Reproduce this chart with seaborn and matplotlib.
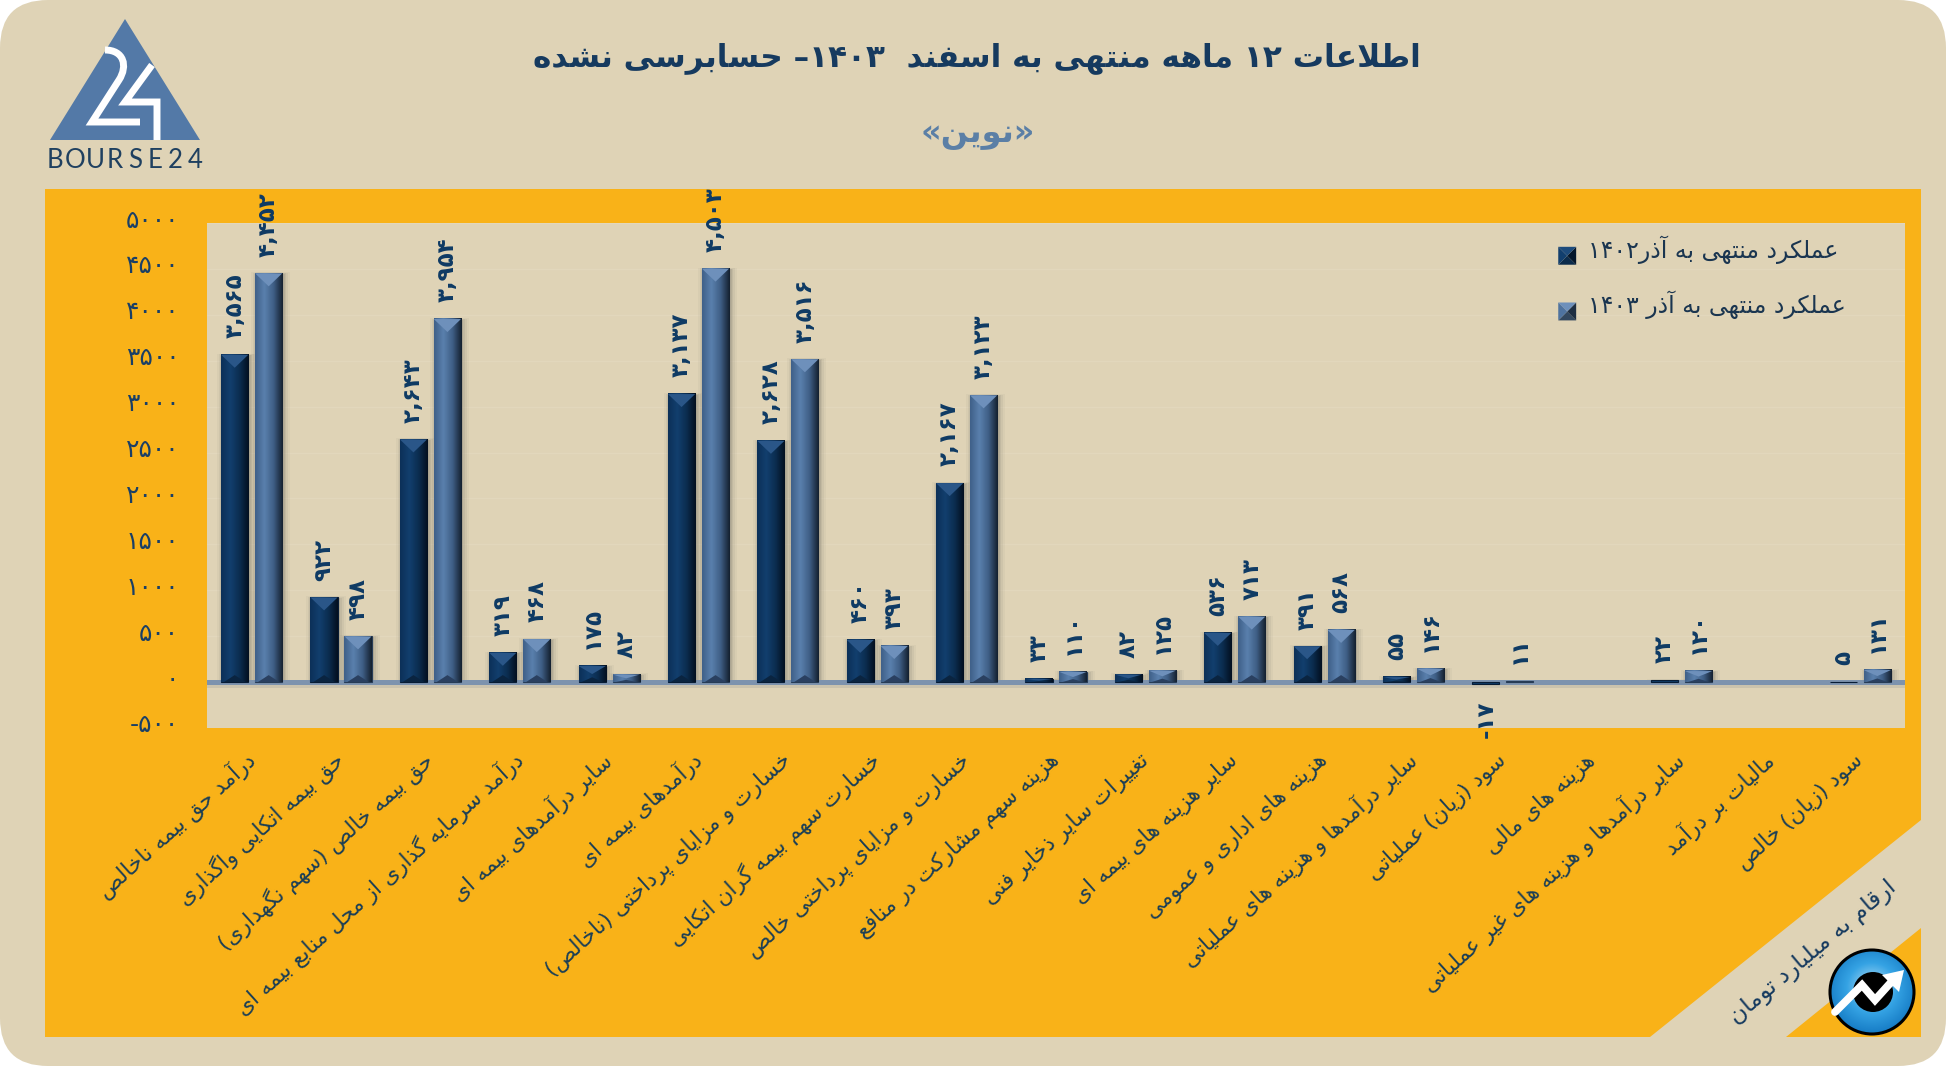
import numpy as np
import pandas as pd
import seaborn as sns
import matplotlib
matplotlib.use("Agg")
import matplotlib.pyplot as plt
from matplotlib.colors import LinearSegmentedColormap
from matplotlib.legend_handler import HandlerBase
from matplotlib.patches import Circle, FancyBboxPatch, Patch, PathPatch, Polygon, Rectangle
from matplotlib.path import Path
from matplotlib.transforms import ScaledTranslation

categories = [
    "درآمد حق بیمه ناخالص",
    "حق بیمه اتکایی واگذاری",
    "حق بیمه خالص (سهم نگهداری)",
    "درآمد سرمایه گذاری از محل منابع بیمه ای",
    "سایر درآمدهای بیمه ای",
    "درآمدهای بیمه ای",
    "خسارت و مزایای پرداختی (ناخالص)",
    "خسارت سهم بیمه گران اتکایی",
    "خسارت و مزایای پرداختی خالص",
    "هزینه سهم مشارکت در منافع",
    "تغییرات سایر ذخایر فنی",
    "سایر هزینه های بیمه ای",
    "هزینه های اداری و عمومی",
    "سایر درآمدها و هزینه های عملیاتی",
    "سود (زیان) عملیاتی",
    "هزینه های مالی",
    "سایر درآمدها و هزینه های غیر عملیاتی",
    "مالیات بر درآمد",
    "سود (زیان) خالص",
]
perf_1402 = [3565, 922, 2643, 319, 175, 3137, 2628, 460, 2167, 33, 82, 536, 391, 55, -17, 0, 22, 0, 5]
perf_1403 = [4452, 498, 3954, 468, 82, 4503, 3516, 393, 3123, 110, 125, 713, 568, 146, 11, 0, 120, 0, 131]
series_names = ["عملکرد منتهی به آذر۱۴۰۲", "عملکرد منتهی به آذر ۱۴۰۳"]
y_ticks = [-500, 0, 500, 1000, 1500, 2000, 2500, 3000, 3500, 4000, 4500, 5000]
title = "اطلاعات ۱۲ ماهه منتهی به اسفند  ۱۴۰۳– حسابرسی نشده"
subtitle = "«نوین»"
unit_note = "ارقام به میلیارد تومان"
logo_text = "BOURSE24"

BEIGE = "#DFD3B6"
ORANGE = "#F9B218"
NAVY = "#163A5F"
SLATE = "#5B7FA6"

W, H = 1946, 1066

# matplotlib does not shape arabic script, so pick the presentation forms by hand
FORMS = {
    "ا": (0xFE8D, 0xFE8E), "آ": (0xFE81, 0xFE82), "د": (0xFEA9, 0xFEAA), "ذ": (0xFEAB, 0xFEAC),
    "ر": (0xFEAD, 0xFEAE), "ز": (0xFEAF, 0xFEB0), "ژ": (0xFB8A, 0xFB8B), "و": (0xFEED, 0xFEEE),
}
for ch, start in {"ب": 0xFE8F, "ت": 0xFE95, "ث": 0xFE99, "ج": 0xFE9D, "ح": 0xFEA1, "خ": 0xFEA5,
                  "س": 0xFEB1, "ش": 0xFEB5, "ص": 0xFEB9, "ض": 0xFEBD, "ط": 0xFEC1, "ظ": 0xFEC5,
                  "ع": 0xFEC9, "غ": 0xFECD, "ف": 0xFED1, "ق": 0xFED5, "ل": 0xFEDD, "م": 0xFEE1,
                  "ن": 0xFEE5, "ه": 0xFEE9, "پ": 0xFB56, "چ": 0xFB7A, "ک": 0xFB8E, "گ": 0xFB92,
                  "ی": 0xFBFC}.items():
    FORMS[ch] = tuple(range(start, start + 4))
MIRROR = {"(": ")", ")": "(", "«": "»", "»": "«"}


def shape(text):
    text = text.replace("لا", "\uE000").replace("لآ", "\uE001")
    lam = {"\uE000": (0xFEFB, 0xFEFC), "\uE001": (0xFEF5, 0xFEF6)}
    table = {**FORMS, **lam}
    out = []
    for i, ch in enumerate(text):
        if ch not in table:
            out.append(ch)
            continue
        prev = text[i - 1] if i else ""
        nxt = text[i + 1] if i + 1 < len(text) else ""
        join_prev = prev in table and len(table[prev]) == 4
        join_next = nxt in table and len(table[ch]) == 4
        if len(table[ch]) == 2:
            out.append(chr(table[ch][1 if join_prev else 0]))
        else:
            idx = 3 if join_prev and join_next else 1 if join_prev else 2 if join_next else 0
            out.append(chr(table[ch][idx]))
    return "".join(out)


def fa(text):
    shaped = shape(text)
    runs, cur = [], ""
    for ch in shaped:
        if ch in "۰۱۲۳۴۵۶۷۸۹":
            cur += ch
        else:
            if cur:
                runs.append(cur)
                cur = ""
            runs.append(MIRROR.get(ch, ch))
    if cur:
        runs.append(cur)
    return "".join(reversed(runs))


def fa_num(v, sep=True):
    s = f"{v:,}" if sep else str(v)
    return s.translate(str.maketrans("0123456789", "۰۱۲۳۴۵۶۷۸۹"))


df = pd.DataFrame({
    "category": categories * 2,
    "value": perf_1402 + perf_1403,
    "series": [series_names[0]] * len(categories) + [series_names[1]] * len(categories),
})

sns.set_theme(style="white")
plt.rcParams["font.family"] = ["DejaVu Sans"]

fig = plt.figure(figsize=(W / 100, H / 100), dpi=100, facecolor="white")

# background layer in pixel coordinates
bg = fig.add_axes([0, 0, 1, 1], zorder=0)
bg.axis("off")
bg.add_patch(FancyBboxPatch((45, 45), W - 90, H - 90, boxstyle="round,pad=45,rounding_size=48",
                            fc=BEIGE, ec="none"))
bg.add_patch(Polygon([(45, 189), (1921, 189), (1921, 820), (1650, 1037), (45, 1037)], fc=ORANGE, ec="none"))
bg.add_patch(Polygon([(1786, 1037), (1921, 928), (1921, 1037)], fc=ORANGE, ec="none"))

# bourse24 logo
bg.add_patch(Polygon([(50, 140), (200, 140), (125, 19)], fc="#5379A7", ec="none"))
two = Path([(105, 50), (124, 50), (128, 66), (119, 80), (92, 122), (140, 122)],
           [Path.MOVETO, Path.CURVE4, Path.CURVE4, Path.CURVE4, Path.LINETO, Path.LINETO])
bg.add_patch(PathPatch(two, fc="none", ec="white", lw=5, capstyle="butt", joinstyle="miter"))
bg.plot([152, 125, 157, 157], [65, 102, 102, 140], color="white", lw=5,
        solid_joinstyle="miter", solid_capstyle="butt")
for letter, lx in zip(logo_text, np.linspace(55, 195, len(logo_text))):
    bg.text(lx, 161, letter, ha="center", va="center", color="#1F4060", fontsize=18.5, family="Lato")

bg.text(977, 58, fa(title), ha="center", va="center", color=NAVY, fontsize=22.4, fontweight="bold")
bg.text(978, 134, fa(subtitle), ha="center", va="center", color=SLATE, fontsize=23, fontweight="bold")
bg.text(1813, 953, fa(unit_note), ha="center", va="center", rotation=40, rotation_mode="anchor",
        color=NAVY, fontsize=16.8)

# round badge with the arrow
yy, xx = np.mgrid[-1:1:200j, -1:1:200j]
rr = np.hypot(xx, yy + 0.1)
badge_cmap = LinearSegmentedColormap.from_list("badge", ["#BFE4F7", "#35A3E4", "#0F73BE"])
im = bg.imshow(rr, extent=(1830, 1914, 1034, 950), cmap=badge_cmap, vmin=0, vmax=1.2, zorder=3)
im.set_clip_path(Circle((1872, 992), 42, transform=bg.transData))
bg.add_patch(Circle((1872, 992), 42, fc="none", ec="black", lw=2.2, zorder=4))
bg.add_patch(Circle((1873, 992), 20, fc="black", ec="none", zorder=4))
bg.plot([1835, 1862, 1875, 1894], [1012, 985, 1000, 979], color="white", lw=5.6, zorder=5,
        solid_joinstyle="miter")
bg.add_patch(Polygon([(1904, 970), (1882, 975), (1899, 992)], fc="white", ec="none", zorder=5))
bg.set_xlim(0, W)
bg.set_ylim(H, 0)

# chart axes
left, right, top, bottom = 207, 1905, 223, 728
ax = fig.add_axes([left / W, 1 - bottom / H, (right - left) / W, (bottom - top) / H], zorder=1)
ax.set_facecolor(BEIGE)

sns.barplot(data=df, x="category", y="value", hue="series", palette=["#0F3B66", "#4F739F"],
            width=0.76, gap=0.2, saturation=1, errorbar=None, legend=False, ax=ax, zorder=3)

ax.set_xlim(-0.5, len(categories) - 0.5)
ax.set_ylim(y_ticks[0], y_ticks[-1])
per_px_x = len(categories) / (right - left)
per_px_y = (y_ticks[-1] - y_ticks[0]) / (bottom - top)

ax.axhline(0, color="#7D93AE", lw=3.6, zorder=2.5)
ax.axhspan(-6 * per_px_y, -3 * per_px_y, color="#5B6C80", alpha=0.15, lw=0, zorder=2)
for t in y_ticks:
    if t != 0:
        ax.axhline(t, color="#E2D7BC", lw=1, zorder=1)

dark_cmap = LinearSegmentedColormap.from_list("dark", ["#0C3058", "#123F6E", "#0B2D50", "#030F1F"])
light_cmap = LinearSegmentedColormap.from_list("light", ["#3F6089", "#5A80AD", "#3F5F86", "#14202F"])
styles = [(dark_cmap, "#2A5688", "#0A2440"), (light_cmap, "#6E90BB", "#2A4060")]
ramp = np.linspace(0, 1, 64).reshape(1, -1)

for container, (cmap, top_col, foot_col), values in zip(ax.containers, styles, [perf_1402, perf_1403]):
    labels = [fa_num(v) if v != 0 else "" for v in values]
    ax.bar_label(container, labels=labels, rotation=90, padding=12, color="#0E3A64", fontsize=16.5,
                 fontweight="bold", clip_on=False, zorder=6)
    for bar, v in zip(container, values):
        if v == 0:
            bar.set_linewidth(0)
            continue
        x0, w = bar.get_x(), bar.get_width()
        y0, h = bar.get_y(), bar.get_height()
        y_lo, y_hi = min(y0, y0 + h), max(y0, y0 + h)
        bar.set_edgecolor(cmap(0.85))
        bar.set_linewidth(0.8)
        # soft shadow, mostly on the sides of the bar
        for grow, alpha in zip((7, 5, 3, 1.5), (0.04, 0.06, 0.08, 0.1)):
            ax.add_patch(Rectangle((x0 - (grow - 3) * per_px_x, y_lo - 1 * per_px_y),
                                   w + (2 * grow - 2) * per_px_x,
                                   (y_hi - y_lo) + 0.3 * grow * per_px_y,
                                   fc="#3A3A3A", ec="none", alpha=alpha, zorder=2.2))
        if y_hi - y_lo < 3 * per_px_y:
            continue
        ax.imshow(ramp, extent=(x0, x0 + w, y_lo, y_hi), aspect="auto", cmap=cmap, vmin=0, vmax=1,
                  interpolation="bicubic", zorder=3.2)
        bar_px = (y_hi - y_lo) / per_px_y
        tri = min(13, bar_px * 0.5) * per_px_y
        foot = min(7, bar_px * 0.3) * per_px_y
        cx = x0 + w / 2
        ax.add_patch(Polygon([(x0, y_hi), (x0 + w, y_hi), (cx, y_hi - tri)], fc=top_col, ec="none", zorder=3.4))
        ax.add_patch(Polygon([(x0 + 0.1 * w, y_lo), (x0 + 0.9 * w, y_lo), (cx, y_lo + foot)], fc=foot_col,
                             ec="none", zorder=3.4))

ax.set_xlim(-0.5, len(categories) - 0.5)
ax.set_ylim(y_ticks[0], y_ticks[-1])
sns.despine(ax=ax, left=True, bottom=True)
ax.set_xlabel("")
ax.set_ylabel("")
ax.set_yticks(y_ticks, labels=[fa_num(t, sep=False) for t in y_ticks])
ax.set_xticks(range(len(categories)), labels=[fa(c) for c in categories])
ax.tick_params(axis="y", length=0, pad=20, labelsize=18, labelcolor="#1A3F66")
ax.tick_params(axis="x", length=0, pad=21, labelsize=15.7, labelcolor="#1C3F55")
up = ScaledTranslation(0, 5 / 72 * 0.72, fig.dpi_scale_trans)
for lab in ax.get_yticklabels():
    lab.set_transform(lab.get_transform() + up)
for lab in ax.get_xticklabels():
    lab.set_rotation(42)
    lab.set_ha("right")
    lab.set_va("center")
    lab.set_rotation_mode("anchor")


class BevelHandler(HandlerBase):
    def __init__(self, facets):
        super().__init__()
        self.facets = facets

    def create_artists(self, legend, orig_handle, xdescent, ydescent, width, height, fontsize, trans):
        x0, y0 = -xdescent, -ydescent - 5
        s = height + 1
        cx, cy = x0 + s / 2, y0 + s / 2
        corners = [(x0, y0), (x0 + s, y0), (x0 + s, y0 + s), (x0, y0 + s)]
        artists = []
        for i, col in enumerate(self.facets):
            artists.append(Polygon([corners[i], corners[(i + 1) % 4], (cx, cy)], fc=col, ec="none", transform=trans))
        return artists


dark_handle = Patch(color="#0F3B66")
light_handle = Patch(color="#4F739F")
ax.legend(
    [dark_handle, light_handle],
    [fa(s) for s in series_names],
    handler_map={
        dark_handle: BevelHandler(["#0C2C4C", "#04162B", "#1D4B7C", "#123F6E"]),
        light_handle: BevelHandler(["#33485F", "#1E2E42", "#6E90BB", "#4F739F"]),
    },
    loc="upper left",
    bbox_to_anchor=(1537 / W, 1 - 214 / H),
    bbox_transform=fig.transFigure,
    frameon=False,
    fontsize=17,
    labelcolor="#1A3550",
    labelspacing=1.15,
    handlelength=0.8,
    handletextpad=0.45,
)

fig.savefig("out.png", dpi=100, facecolor="white")
